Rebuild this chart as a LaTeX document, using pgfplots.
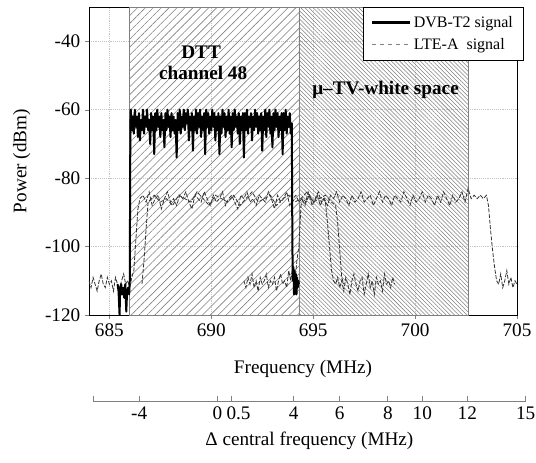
\documentclass[border=0pt]{standalone}
\usepackage{pgfplots}
\pgfplotsset{compat=1.18}
\usepackage{fontspec}
\setmainfont{Liberation Serif}
\usetikzlibrary{patterns.meta}
\newcommand{\bigf}{\fontsize{14.4}{17}\selectfont}
\newcommand{\legf}{\fontsize{12}{14}\selectfont}
\begin{document}
\begin{tikzpicture}
\useasboundingbox (-66.75pt,-110.25pt) rectangle (335.25pt,236.25pt);
\begin{axis}[
  at={(0pt,0pt)}, anchor=south west,
  scale only axis, width=321pt, height=231pt,
  xmin=684, xmax=705, ymin=-120, ymax=-30,
  xtick={685,690,695,700,705},
  ytick={-120,-100,-80,-60,-40},
  yticklabels={-120,-100,-80,-60,-40},
  xticklabels={685,690,695,700,705},
  tick align=outside, xtick pos=bottom, ytick pos=left,
  major tick length=3pt,
  tick label style={font=\bigf},
  label style={font=\bigf},
  xlabel={Frequency (MHz)},
  ylabel={Power (dBm)},
  xlabel style={at={(axis description cs:0.5,0)}, anchor=center, yshift=-40.5pt},
  ylabel style={at={(axis description cs:-0.157,0.5)}, anchor=center},
  grid=major, grid style={densely dotted, gray!45, line width=0.4pt},
  axis line style={black, line width=0.5pt},
  clip=true,
  legend style={at={(rel axis cs:1.016,1)}, anchor=north east, draw=black, fill=white,
    font=\legf, inner xsep=6pt, inner ysep=4.5pt, row sep=3pt, cells={anchor=west}},
  legend image code/.code={\draw[#1] (0pt,0pt) -- (28pt,0pt);},
]
\addlegendimage{black, line width=2pt}
\addlegendentry{DVB-T2 signal}
\addlegendimage{gray, dashed, line width=0.7pt}
\addlegendentry{LTE-A~ signal}

% hatched areas
\addplot[draw=gray, line width=0.5pt, pattern={Lines[angle=45,distance=4.2pt,line width=0.45pt]}, pattern color=gray, forget plot]
  coordinates {(686,-120) (686,-30) (694.3,-30) (694.3,-120)} -- cycle;
\addplot[draw=gray, line width=0.5pt, pattern={Lines[angle=-45,distance=2.2pt,line width=0.4pt]}, pattern color=gray, forget plot]
  coordinates {(694.3,-120) (694.3,-30) (702.6,-30) (702.6,-120)} -- cycle;

% LTE-A trace 1
\addplot[black!80, line width=0.6pt, dash pattern=on 3pt off 1.2pt, forget plot] coordinates {
(684.0,-110)(684.1,-112)(684.2,-109)(684.3,-111)(684.4,-113)(684.5,-110)(684.6,-108)(684.7,-111)(684.8,-112)(684.9,-109)
(685.0,-111)(685.1,-110)(685.2,-113)(685.3,-109)(685.4,-111)(685.5,-112)(685.6,-110)(685.7,-108)(685.8,-111)(685.9,-110)
(686.0,-112)(686.1,-109)(686.2,-107)(686.3,-98)(686.4,-89)(686.5,-86)
(686.65,-85)(686.8,-87)(686.95,-84)(687.1,-88)(687.25,-86)(687.4,-85)(687.55,-89)(687.7,-86)(687.85,-84)(688.0,-87)
(688.15,-86)(688.3,-88)(688.45,-85)(688.6,-86)(688.75,-84)(688.9,-87)(689.05,-89)(689.2,-85)(689.35,-86)(689.5,-87)
(689.65,-84)(689.8,-86)(689.95,-88)(690.1,-85)(690.25,-87)(690.4,-86)(690.55,-84)(690.7,-88)(690.85,-86)(691.0,-85)
(691.15,-87)(691.3,-89)(691.45,-85)(691.6,-86)(691.75,-84)(691.9,-87)(692.05,-86)(692.2,-88)(692.35,-85)(692.5,-86)
(692.65,-87)(692.8,-84)(692.95,-86)(693.1,-89)(693.25,-85)(693.4,-87)(693.55,-86)(693.7,-84)(693.85,-88)(694.0,-86)
(694.15,-85)(694.3,-87)(694.45,-86)(694.6,-88)(694.75,-84)(694.9,-86)(695.05,-87)(695.2,-85)(695.35,-88)(695.5,-86)
(695.6,-87)(695.7,-93)(695.8,-100)(695.9,-107)(696.0,-110)
(696.1,-111)(696.2,-109)(696.3,-112)(696.4,-110)(696.5,-113)(696.6,-109)(696.7,-111)(696.8,-114)(696.9,-110)(697.0,-108)
(697.1,-111)(697.2,-113)(697.3,-110)(697.4,-109)(697.5,-114)(697.6,-111)(697.7,-108)(697.8,-112)(697.9,-110)(698.0,-114)
(698.1,-109)(698.2,-111)(698.3,-110)(698.4,-113)(698.5,-108)(698.6,-111)(698.7,-110)(698.8,-112)(698.9,-109)(699.0,-111)
};
% LTE-A trace 2
\addplot[black!80, line width=0.6pt, dash pattern=on 3pt off 1.2pt, forget plot] coordinates {
(686.6,-111)(686.7,-104)(686.8,-95)(686.9,-87)(687.2,-85)(687.5,-87)(687.8,-86)(688.1,-88)(688.4,-85)(688.7,-86)
(689.0,-87)(689.3,-84)(689.6,-86)(689.9,-88)(690.2,-85)(690.5,-86)(690.8,-87)(691.1,-85)(691.4,-88)(691.7,-86)
(692.0,-84)(692.3,-87)(692.6,-86)(692.9,-85)(693.2,-88)(693.5,-86)(693.8,-85)(694.1,-87)(694.4,-86)(694.7,-84)
(695.0,-87)(695.3,-86)(695.6,-85)(695.9,-87)(696.1,-88)(696.2,-93)(696.3,-101)(696.4,-109)(696.5,-111)
};
% LTE-A trace 3
\addplot[black!80, line width=0.6pt, dash pattern=on 3pt off 1.2pt, forget plot] coordinates {
(691.6,-110)(691.7,-112)(691.8,-109)(691.9,-111)(692.0,-108)(692.1,-112)(692.2,-110)(692.3,-113)(692.4,-109)(692.5,-111)
(692.6,-110)(692.7,-108)(692.8,-112)(692.9,-110)(693.0,-111)(693.1,-109)(693.2,-113)(693.3,-110)(693.4,-108)(693.5,-111)
(693.6,-110)(693.7,-112)(693.8,-107)(693.9,-110)(694.0,-106)(694.1,-111)(694.2,-104)(694.3,-100)(694.35,-94)(694.4,-88)
(694.5,-86)(694.65,-87)(694.8,-85)(694.95,-88)(695.1,-86)(695.25,-84)(695.4,-87)(695.55,-86)(695.7,-88)(695.85,-85)
(696.0,-86)(696.15,-84)(696.3,-87)(696.45,-85)(696.6,-86)(696.75,-88)(696.9,-85)(697.05,-87)(697.2,-86)(697.35,-84)
(697.5,-87)(697.65,-86)(697.8,-85)(697.95,-88)(698.1,-86)(698.25,-84)(698.4,-87)(698.55,-85)(698.7,-86)(698.85,-88)
(699.0,-85)(699.15,-86)(699.3,-87)(699.45,-84)(699.6,-86)(699.75,-88)(699.9,-85)(700.05,-87)(700.2,-86)(700.35,-84)
(700.5,-87)(700.65,-85)(700.8,-86)(700.95,-88)(701.1,-85)(701.25,-87)(701.4,-84)(701.55,-86)(701.7,-88)(701.85,-85)
(702.0,-87)(702.15,-86)(702.3,-84)(702.45,-87)(702.6,-83)(702.75,-86)(702.9,-85)(703.05,-86)(703.2,-85)(703.35,-86)
(703.5,-85)(703.6,-88)(703.7,-95)(703.8,-101)(703.9,-106)(704.0,-110)
(704.1,-111)(704.2,-108)(704.3,-112)(704.4,-110)(704.5,-107)(704.6,-111)(704.7,-109)(704.8,-112)(704.9,-110)(705.0,-111)
};
% DVB-T2 signal
\addplot[black, line width=1.5pt, line join=round, forget plot] coordinates {
(685.40,-111)(685.45,-113)(685.50,-120)(685.53,-112)(685.58,-111)(685.63,-114)(685.68,-112)(685.73,-115)(685.78,-111)(685.83,-119)
(685.87,-113)(685.92,-112)(685.97,-114)(686.00,-110)(686.03,-64)
(686.05,-60)(686.10,-66)(686.15,-62)(686.20,-67)(686.25,-60)(686.30,-65)(686.35,-62)(686.40,-68)(686.45,-61)(686.50,-69)
(686.55,-63)(686.60,-66)(686.65,-60)(686.70,-67)(686.75,-62)(686.80,-65)(686.85,-60)(686.90,-66)(686.95,-63)(687.00,-70)
(687.05,-61)(687.10,-66)(687.15,-62)(687.20,-73)(687.25,-61)(687.30,-66)(687.35,-60)(687.40,-65)(687.45,-62)(687.50,-68)
(687.55,-61)(687.60,-66)(687.65,-63)(687.70,-71)(687.75,-61)(687.80,-66)(687.85,-60)(687.90,-65)(687.95,-62)(688.00,-68)
(688.05,-61)(688.10,-66)(688.15,-62)(688.20,-67)(688.25,-63)(688.30,-74)(688.35,-61)(688.40,-66)(688.45,-60)(688.50,-67)
(688.55,-62)(688.60,-65)(688.65,-60)(688.70,-66)(688.75,-61)(688.80,-64)(688.85,-60)(688.90,-69)(688.95,-62)(689.00,-66)
(689.05,-61)(689.10,-72)(689.15,-62)(689.20,-66)(689.25,-60)(689.30,-67)(689.35,-61)(689.40,-65)(689.45,-60)(689.50,-68)
(689.55,-62)(689.60,-66)(689.65,-61)(689.70,-73)(689.75,-60)(689.80,-65)(689.85,-61)(689.90,-67)(689.95,-62)(690.00,-66)
(690.05,-60)(690.10,-65)(690.15,-61)(690.20,-69)(690.25,-62)(690.30,-66)(690.35,-61)(690.40,-73)(690.45,-62)(690.50,-67)
(690.55,-60)(690.60,-65)(690.65,-61)(690.70,-68)(690.75,-62)(690.80,-66)(690.85,-60)(690.90,-67)(690.95,-62)(691.00,-71)
(691.05,-61)(691.10,-66)(691.15,-60)(691.20,-65)(691.25,-62)(691.30,-67)(691.35,-61)(691.40,-70)(691.45,-62)(691.50,-66)
(691.55,-61)(691.60,-74)(691.65,-61)(691.70,-66)(691.75,-60)(691.80,-67)(691.85,-62)(691.90,-65)(691.95,-61)(692.00,-69)
(692.05,-62)(692.10,-66)(692.15,-60)(692.20,-65)(692.25,-61)(692.30,-67)(692.35,-62)(692.40,-66)(692.45,-61)(692.50,-72)
(692.55,-62)(692.60,-66)(692.65,-60)(692.70,-68)(692.75,-61)(692.80,-65)(692.85,-60)(692.90,-67)(692.95,-62)(693.00,-71)
(693.05,-61)(693.10,-66)(693.15,-60)(693.20,-65)(693.25,-61)(693.30,-68)(693.35,-62)(693.40,-66)(693.45,-61)(693.50,-73)
(693.55,-61)(693.60,-66)(693.65,-60)(693.70,-67)(693.75,-62)(693.80,-65)(693.85,-61)(693.90,-67)(693.95,-64)
(693.98,-100)(694.00,-110)(694.03,-106)(694.06,-114)(694.09,-107)(694.12,-113)(694.15,-108)(694.18,-114)(694.21,-109)(694.24,-112)
(694.27,-110)(694.30,-111)
};

\node[font=\bigf\bfseries, align=center] at (axis cs:689.5,-43.2) {DTT};
\node[font=\bigf\bfseries, align=center] at (axis cs:689.6,-49.3) {channel 48};
\node[font=\bigf\bfseries] at (axis cs:698.55,-54.3) {μ–TV-white space};
\end{axis}

\begin{axis}[
  at={(3.06pt,-65pt)}, anchor=south west,
  scale only axis, width=324.4pt, height=1pt,
  xmin=684.2, xmax=705.42, ymin=0, ymax=1,
  axis x line*=bottom, axis y line=none,
  ytick=\empty,
  xtick={684.2,686.46,690.30,691.01,694.04,696.30,698.66,700.35,702.56,705.42},
  xticklabels={{},-4,{0\hspace{4pt}},{\hspace{10pt}0.5},4,6,8,10,12,15},
  xtick align=inside, major tick length=4.5pt,
  axis line style={gray, line width=0.6pt},
  every tick/.style={gray, line width=0.6pt},
  tick label style={font=\bigf},
  label style={font=\bigf},
  xlabel={Δ central frequency (MHz)},
  xlabel style={at={(axis description cs:0.5,0)}, anchor=center, yshift=-29.5pt},
  clip=false,
]
\end{axis}
\end{tikzpicture}
\end{document}
